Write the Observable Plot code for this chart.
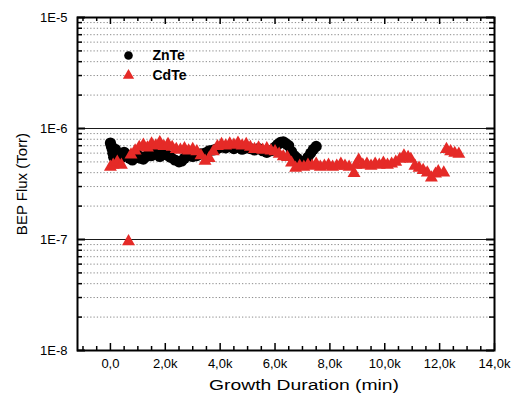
<!DOCTYPE html>
<html>
<head>
<meta charset="utf-8">
<script src="https://cdn.jsdelivr.net/npm/d3@7"></script>
<script src="https://cdn.jsdelivr.net/npm/@observablehq/plot@0.6"></script>
<style>
  html, body { margin: 0; padding: 0; background: #fff; }
  #chart { width: 515px; height: 403px; }
</style>
</head>
<body>
<div id="chart"></div>
<script>
// ---- Data ----
const seriesNames = ["ZnTe", "CdTe"];

const znteTime = [0, 30, 60, 90, 120, 180, 250, 320, 400, 500, 600, 700, 800, 900, 1000, 1100, 1200, 1300, 1400,
  1500, 1600, 1700, 1800, 1900, 2000, 2100, 2200, 2350, 2500, 2600, 2700, 2850, 3000, 3150, 3300, 3450, 3600, 3750,
  3900, 4050, 4200, 4350, 4500, 4650, 4800, 4950, 5100, 5250, 5400, 5550, 5700, 5850, 6000, 6100, 6200, 6300, 6400,
  6500, 6600, 6700, 6800, 6900, 7000, 7100, 7200, 7300, 7400, 7500];
const znteFlux = [7.4e-7, 7.0e-7, 6.6e-7, 6.0e-7, 5.5e-7, 6.5e-7, 5.8e-7, 5.2e-7, 5.5e-7, 6.1e-7, 5.8e-7, 5.4e-7,
  5.2e-7, 5.6e-7, 5.8e-7, 5.4e-7, 5.3e-7, 5.6e-7, 5.9e-7, 5.7e-7, 6.0e-7, 5.9e-7, 5.6e-7, 5.8e-7, 6.0e-7, 5.7e-7,
  5.5e-7, 5.2e-7, 5.0e-7, 5.1e-7, 5.4e-7, 5.8e-7, 5.6e-7, 5.7e-7, 5.9e-7, 6.0e-7, 6.3e-7, 6.4e-7, 6.6e-7, 6.8e-7,
  6.7e-7, 6.9e-7, 6.6e-7, 6.8e-7, 6.5e-7, 6.7e-7, 6.6e-7, 6.4e-7, 6.6e-7, 6.3e-7, 6.1e-7, 6.3e-7, 6.8e-7, 7.2e-7,
  7.5e-7, 7.6e-7, 7.3e-7, 7.0e-7, 6.2e-7, 5.7e-7, 5.4e-7, 5.1e-7, 5.0e-7, 5.1e-7, 5.5e-7, 6.0e-7, 6.5e-7, 6.9e-7];

const cdteTime = [0, 100, 250, 400, 660, 750, 900, 1050, 1200, 1350, 1500, 1650, 1800, 1950, 2100, 2250, 2400, 2550,
  2700, 2850, 3000, 3150, 3300, 3450, 3600, 3750, 3900, 4050, 4200, 4350, 4500, 4650, 4800, 4950, 5100, 5250, 5400,
  5550, 5700, 5850, 6000, 6150, 6300, 6450, 6600, 6750, 6900, 7050, 7200, 7350, 7500, 7650, 7800, 7950, 8100, 8250,
  8400, 8550, 8700, 8880, 8950, 9050, 9200, 9350, 9500, 9650, 9800, 9950, 10100, 10250, 10400, 10550, 10700, 10850,
  10950, 11100, 11250, 11400, 11550, 11700, 11850, 11950, 12150, 12250, 12400, 12550, 12700];
const cdteFlux = [4.5e-7, 4.7e-7, 5.0e-7, 4.7e-7, 0.96e-7, 5.8e-7, 6.3e-7, 6.8e-7, 7.1e-7, 6.7e-7, 7.3e-7, 7.0e-7,
  7.5e-7, 6.9e-7, 7.2e-7, 6.8e-7, 6.5e-7, 6.4e-7, 6.6e-7, 6.3e-7, 6.5e-7, 6.2e-7, 5.7e-7, 5.1e-7, 5.4e-7, 6.2e-7,
  6.9e-7, 7.2e-7, 7.0e-7, 7.3e-7, 7.1e-7, 7.4e-7, 7.0e-7, 7.2e-7, 6.8e-7, 6.5e-7, 6.7e-7, 6.4e-7, 6.6e-7, 6.3e-7,
  6.2e-7, 5.9e-7, 5.6e-7, 5.5e-7, 4.9e-7, 4.4e-7, 4.6e-7, 4.5e-7, 4.7e-7, 4.6e-7, 4.8e-7, 4.5e-7, 4.6e-7, 4.7e-7,
  4.5e-7, 4.6e-7, 4.8e-7, 4.6e-7, 4.5e-7, 3.95e-7, 4.7e-7, 5.2e-7, 4.7e-7, 4.8e-7, 4.6e-7, 4.8e-7, 4.7e-7, 4.9e-7,
  4.7e-7, 4.8e-7, 5.0e-7, 5.3e-7, 5.7e-7, 5.5e-7, 5.3e-7, 4.6e-7, 4.4e-7, 4.2e-7, 4.0e-7, 3.6e-7, 3.9e-7, 4.1e-7,
  4.0e-7, 6.5e-7, 6.2e-7, 6.0e-7, 5.9e-7];

const xTicks = [0, 2000, 4000, 6000, 8000, 10000, 12000, 14000];
const yTicks = [1e-8, 1e-7, 1e-6, 1e-5];
const xTitle = "Growth Duration (min)";
const yTitle = "BEP Flux (Torr)";

// ---- Derived tables ----
const znte = znteTime.map((t, i) => ({t, v: znteFlux[i]}));
const cdte = cdteTime.map((t, i) => ({t, v: cdteFlux[i]}));
const xMinor = d3.range(-1000, 14001, 500).filter(d => d % 2000 !== 0);
const yMinor = [];
for (let e = -8; e <= -6; e++) for (let k = 2; k <= 9; k++) yMinor.push(+(k * Math.pow(10, e)).toPrecision(3));
const yGrid = [1e-7, 1e-6];

const W = 515, H = 403;
const mL = 77, mR = 21, mT = 17, mB = 53;
const pw = W - mL - mR, ph = H - mT - mB;
const red = "#e52a27";

const fmtX = d => d === 0 ? "0,0" : (d / 1000).toFixed(1).replace(".", ",") + "k";
const fmtY = d => "1E" + Math.round(Math.log10(d));

const chart = Plot.plot({
  width: W, height: H,
  marginLeft: mL, marginRight: mR, marginTop: mT, marginBottom: mB,
  x: {domain: [-1200, 14000]},
  y: {type: "log", domain: [1e-8, 1e-5]},
  style: {fontFamily: "'Liberation Sans', Arial, sans-serif", fontSize: "13px", color: "black", background: "white"},
  marks: [
    Plot.ruleY(yMinor, {stroke: "#8c8c8c", strokeDasharray: "1.3,2", strokeWidth: 1}),
    Plot.ruleY(yGrid, {stroke: "#1a1a1a", strokeWidth: 1.2}),
    // inward ticks: left / right
    Plot.tickY(yMinor, {insetRight: pw - 5, stroke: "black", strokeWidth: 1.5}),
    Plot.tickY(yMinor, {insetLeft: pw - 5, stroke: "black", strokeWidth: 1.5}),
    Plot.tickY(yTicks, {insetRight: pw - 8, stroke: "black", strokeWidth: 2}),
    Plot.tickY(yTicks, {insetLeft: pw - 8, stroke: "black", strokeWidth: 2}),
    // inward ticks: bottom / top
    Plot.tickX(xMinor, {insetTop: ph - 4, stroke: "black", strokeWidth: 1.5}),
    Plot.tickX(xMinor, {insetBottom: ph - 4, stroke: "black", strokeWidth: 1.5}),
    Plot.tickX(xTicks, {insetTop: ph - 7, stroke: "black", strokeWidth: 1.5}),
    Plot.tickX(xTicks, {insetBottom: ph - 7, stroke: "black", strokeWidth: 1.5}),
    // data
    Plot.dot(znte, {x: "t", y: "v", r: 5.6, symbol: "circle", fill: "black", stroke: "none"}),
    Plot.dot(cdte, {x: "t", y: "v", r: 4.8, symbol: "triangle", fill: red, stroke: "none"}),
    Plot.frame({stroke: "black", strokeWidth: 2}),
    // axes
    Plot.axisY({ticks: yTicks, tickFormat: fmtY, tickSize: 0, tickPadding: 10, fontSize: 13, label: null}),
    Plot.axisX({ticks: xTicks, tickFormat: fmtX, tickSize: 0, tickPadding: 8, fontSize: 13, label: null}),
    Plot.text([yTitle], {frameAnchor: "left", dx: -55, rotate: -90, fontSize: 15, textAnchor: "middle", lineAnchor: "middle", fill: "black"}),
    Plot.text([xTitle], {frameAnchor: "bottom", dx: 18, dy: 35, fontSize: 15.5, textAnchor: "middle", lineAnchor: "middle", fill: "black", className: "xtitle"}),
    // legend
    Plot.dot([seriesNames[0]], {frameAnchor: "top-left", dx: 51, dy: 38, r: 4.3, symbol: "circle", fill: "black", stroke: "none"}),
    Plot.dot([seriesNames[1]], {frameAnchor: "top-left", dx: 51, dy: 58, r: 4.2, symbol: "triangle", fill: red, stroke: "none"}),
    Plot.text([seriesNames[0]], {frameAnchor: "top-left", dx: 75, dy: 38, fontSize: 14, fontWeight: "bold", textAnchor: "start", lineAnchor: "middle", fill: "black"}),
    Plot.text([seriesNames[1]], {frameAnchor: "top-left", dx: 75, dy: 58, fontSize: 14, fontWeight: "bold", textAnchor: "start", lineAnchor: "middle", fill: "black"})
  ]
});
// stretch the x-axis title to the reference's width
chart.querySelectorAll("g.xtitle text").forEach(t => {
  t.setAttribute("textLength", "190");
  t.setAttribute("lengthAdjust", "spacingAndGlyphs");
});
document.getElementById("chart").appendChild(chart);
</script>
</body>
</html>
